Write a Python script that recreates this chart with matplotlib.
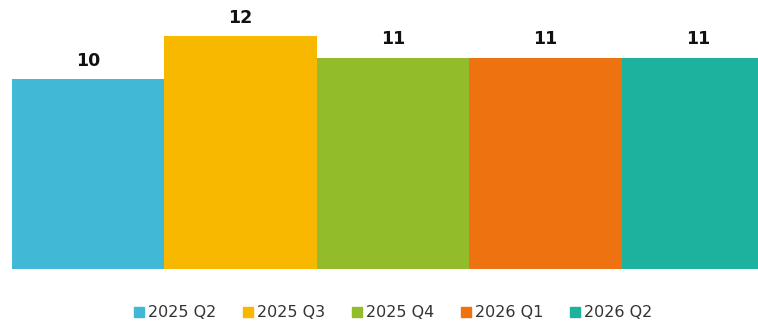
import matplotlib.pyplot as plt
from matplotlib.lines import Line2D

# quarterly values
quarters = ['2025 Q2', '2025 Q3', '2025 Q4', '2026 Q1', '2026 Q2']
values = [10, 12, 11, 11, 11]
colors = ['#41B8D5', '#F9B800', '#92BC2A', '#EE7210', '#1DB29E']

plt.rcParams['font.family'] = ['DejaVu Sans']

fig = plt.figure(figsize=(7.58, 3.22), dpi=100)
ax = fig.add_axes([11.5 / 758, 53 / 322, 1 - 11.5 / 758, 269 / 322])

x = range(len(quarters))
bars = ax.bar(x, values, width=1.0, color=colors)
for b, v in zip(bars, values):
    ax.text(b.get_x() + b.get_width() / 2, v + 0.42, str(v),
            ha='center', va='bottom', fontsize=12.5, fontweight='bold',
            color='#111111')

ax.set_xlim(-0.5, 4.395)
ax.set_ylim(1.26, 13.65)
ax.axis('off')

handles = [Line2D([], [], marker='s', linestyle='', markersize=6.5,
                  markerfacecolor=c, markeredgecolor=c) for c in colors]
fig.legend(handles, quarters, loc='center', bbox_to_anchor=(0.518, 0.028),
           ncol=5, frameon=False, fontsize=11.5, handletextpad=0.15,
           columnspacing=1.6, handlelength=0.8, labelcolor='#333333')

fig.savefig('out.png', dpi=100)
